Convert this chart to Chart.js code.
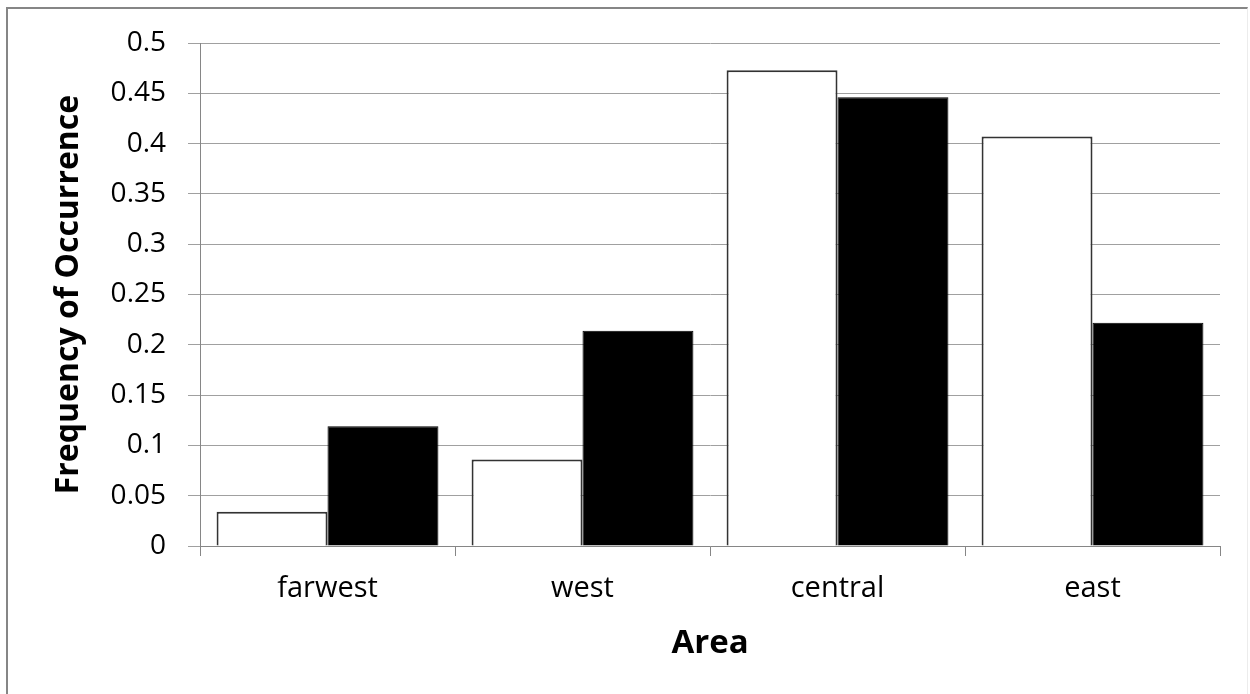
<!DOCTYPE html>
<html>
<head>
<meta charset="utf-8">
<script src="https://cdn.jsdelivr.net/npm/chart.js@4.4.1/dist/chart.umd.min.js"></script>
<style>
  html, body { margin: 0; padding: 0; background: #ffffff; }
  #wrap { position: relative; width: 1250px; height: 694px; overflow: hidden; }
  #frame {
    position: absolute; left: 6px; top: 7px; width: 1242px; height: 700px;
    border-top: 2px solid #868686; border-left: 2px solid #868686;
    border-right: 1px solid #ececec; box-sizing: border-box;
  }
  #chart { position: absolute; left: 0; top: 0; }
</style>
</head>
<body>
<div id="wrap">
  <div id="frame"></div>
  <canvas id="chart" width="1250" height="694"></canvas>
</div>
<script>
// Frequency of occurrence by area, two series (open and filled bars)
const areas = ['farwest', 'west', 'central', 'east'];
const seriesOpen = [0.034, 0.086, 0.473, 0.407];
const seriesFilled = [0.119, 0.214, 0.446, 0.222];
const yTicks = [0, 0.05, 0.1, 0.15, 0.2, 0.25, 0.3, 0.35, 0.4, 0.45, 0.5];

const FONT = "'Open Sans', 'DejaVu Sans', sans-serif";

new Chart(document.getElementById('chart'), {
  type: 'bar',
  data: {
    labels: areas,
    datasets: [
      {
        label: 'open',
        data: seriesOpen,
        backgroundColor: '#ffffff',
        borderColor: '#333333',
        borderWidth: 2,
        borderSkipped: 'bottom',
        categoryPercentage: 0.87,
        barPercentage: 1.0
      },
      {
        label: 'filled',
        data: seriesFilled,
        backgroundColor: '#000000',
        borderColor: '#000000',
        borderWidth: 1,
        borderSkipped: 'bottom',
        categoryPercentage: 0.87,
        barPercentage: 1.0
      }
    ]
  },
  options: {
    responsive: false,
    animation: false,
    devicePixelRatio: 1,
    layout: { padding: { left: 0, top: 43, right: 30, bottom: 0 } },
    plugins: {
      legend: { display: false },
      tooltip: { enabled: false }
    },
    scales: {
      x: {
        grid: {
          display: true,
          drawOnChartArea: false,
          drawTicks: true,
          tickLength: 10,
          tickColor: '#868686',
          offset: true
        },
        border: { display: true, color: '#868686', width: 1 },
        ticks: {
          color: '#000000',
          padding: 15,
          font: { family: FONT, size: 29 }
        },
        title: {
          display: true,
          text: 'Area',
          color: '#000000',
          font: { family: FONT, size: 33, weight: 'bold' },
          padding: { top: 0, bottom: 31 }
        },
        afterFit: (scale) => { scale.height = 148; }
      },
      y: {
        min: 0,
        max: 0.5,
        afterBuildTicks: (scale) => { scale.ticks = yTicks.map(v => ({ value: v })); },
        grid: {
          color: '#a0a0a0',
          lineWidth: 1,
          drawTicks: true,
          tickLength: 12
        },
        border: { display: true, color: '#868686', width: 1 },
        ticks: {
          color: '#000000',
          padding: 22,
          font: { family: FONT, size: 28 },
          callback: (v) => String(Number(Number(v).toFixed(2)))
        },
        title: {
          display: true,
          text: 'Frequency of Occurrence',
          color: '#000000',
          font: { family: FONT, size: 32, weight: 'bold' },
          padding: { top: 50, bottom: 0 }
        },
        afterFit: (scale) => { scale.width = 200; }
      }
    }
  }
});
</script>
</body>
</html>
